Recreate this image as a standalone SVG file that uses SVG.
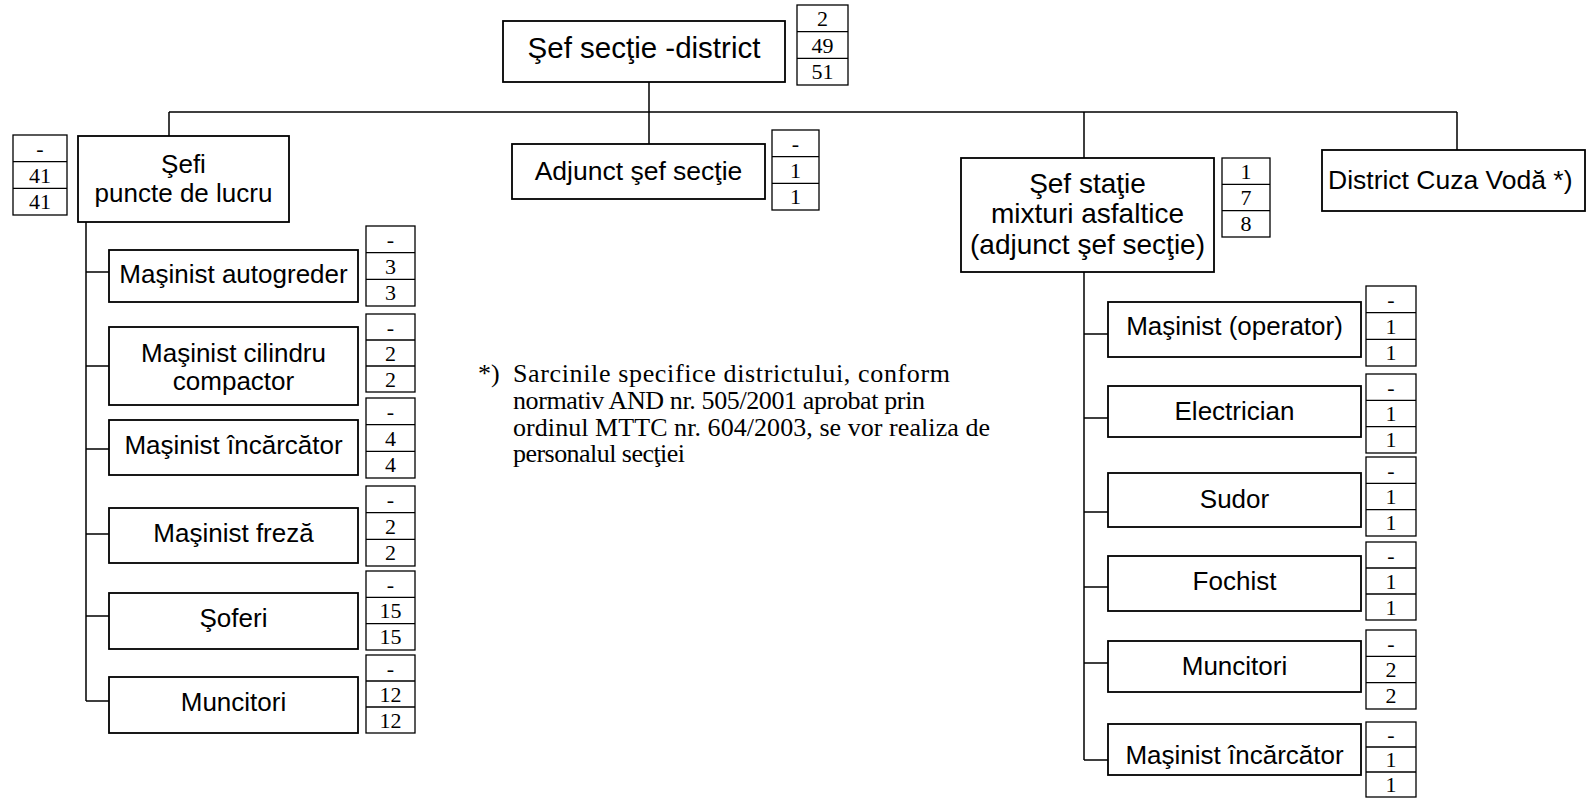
<svg xmlns="http://www.w3.org/2000/svg" width="1586" height="799" viewBox="0 0 1586 799">
<style>
.box{fill:#fff;stroke:#000;stroke-width:1.8}
.nb{fill:#fff;stroke:#000;stroke-width:1.3}
.nl{stroke:#000;stroke-width:1.3}
.con{stroke:#000;stroke-width:1.5;fill:none}
.lbl{font-family:"Liberation Sans",Arial,sans-serif;font-size:26px;text-anchor:middle;fill:#000}
.big{font-size:29.5px}
.mid{font-size:28px}
.m2{font-size:26.5px}
.num{font-family:"Liberation Serif","Times New Roman",serif;font-size:22px;text-anchor:middle;fill:#000}
.note{font-family:"Liberation Serif","Times New Roman",serif;font-size:26px;fill:#000}
</style>
<rect width="1586" height="799" fill="#fff"/>
<g id="connectors">
<path class="con" d="M169 112H1457M169 112V136M649 82V144M1084 112V158M1457 112V150"/>
<path class="con" d="M86 222V701M86 272H109M86 366H109M86 449H109M86 534H109M86 616H109M86 701H109"/>
<path class="con" d="M1084 272V760M1084 334H1108M1084 418H1108M1084 512H1108M1084 587H1108M1084 663H1108M1084 760H1108"/>
</g>
<g id="n-sef-sectie">
<rect class="box" x="503" y="21" width="282" height="61"/>
<text class="lbl big" x="644" y="58">Şef secţie -district</text>
<rect class="nb" x="797" y="5" width="51" height="80"/>
<path class="nl" d="M797 31.7H848M797 58.3H848"/>
<text class="num" x="822.5" y="26">2</text><text class="num" x="822.5" y="52.5">49</text><text class="num" x="822.5" y="79">51</text>
</g>
<g id="n-sefi-puncte">
<rect class="box" x="78" y="136" width="211" height="86"/>
<text class="lbl" x="183.5" y="173">Şefi</text>
<text class="lbl" x="183.5" y="202">puncte de lucru</text>
<rect class="nb" x="13" y="135" width="54" height="80"/>
<path class="nl" d="M13 161.7H67M13 188.3H67"/>
<text class="num" x="40" y="156">-</text><text class="num" x="40" y="182.5">41</text><text class="num" x="40" y="209">41</text>
</g>
<g id="n-adjunct">
<rect class="box" x="512" y="144" width="253" height="55"/>
<text class="lbl m2" x="638.5" y="180">Adjunct şef secţie</text>
<rect class="nb" x="772" y="130" width="47" height="80"/>
<path class="nl" d="M772 156.7H819M772 183.3H819"/>
<text class="num" x="795.5" y="151">-</text><text class="num" x="795.5" y="177.5">1</text><text class="num" x="795.5" y="204">1</text>
</g>
<g id="n-sef-statie">
<rect class="box" x="961" y="158" width="253" height="114"/>
<text class="lbl mid" x="1087.5" y="192.5">Şef staţie</text>
<text class="lbl mid" x="1087.5" y="223">mixturi asfaltice</text>
<text class="lbl mid" x="1087.5" y="253.5">(adjunct şef secţie)</text>
<rect class="nb" x="1222" y="158" width="48" height="79"/>
<path class="nl" d="M1222 184.3H1270M1222 210.7H1270"/>
<text class="num" x="1246" y="178.7">1</text><text class="num" x="1246" y="205">7</text><text class="num" x="1246" y="231.4">8</text>
</g>
<g id="n-cuza">
<rect class="box" x="1322" y="150" width="263" height="61"/>
<text class="lbl m2" x="1328" y="189" style="text-anchor:start">District Cuza Vodă *)</text>
</g>
<g id="n-autogreder">
<rect class="box" x="109" y="250" width="249" height="52"/>
<text class="lbl" x="233.5" y="283">Maşinist autogreder</text>
<rect class="nb" x="366" y="226" width="49" height="80"/>
<path class="nl" d="M366 252.7H415M366 279.3H415"/>
<text class="num" x="390.5" y="247">-</text><text class="num" x="390.5" y="273.5">3</text><text class="num" x="390.5" y="300">3</text>
</g>
<g id="n-cilindru">
<rect class="box" x="109" y="327" width="249" height="78"/>
<text class="lbl" x="233.5" y="362">Maşinist cilindru</text>
<text class="lbl" x="233.5" y="390">compactor</text>
<rect class="nb" x="366" y="314" width="49" height="78"/>
<path class="nl" d="M366 340H415M366 366H415"/>
<text class="num" x="390.5" y="334.5">-</text><text class="num" x="390.5" y="360.5">2</text><text class="num" x="390.5" y="386.5">2</text>
</g>
<g id="n-incarcator-l">
<rect class="box" x="109" y="420" width="249" height="55"/>
<text class="lbl" x="233.5" y="454">Maşinist încărcător</text>
<rect class="nb" x="366" y="398" width="49" height="80"/>
<path class="nl" d="M366 424.7H415M366 451.3H415"/>
<text class="num" x="390.5" y="419">-</text><text class="num" x="390.5" y="445.5">4</text><text class="num" x="390.5" y="472">4</text>
</g>
<g id="n-freza">
<rect class="box" x="109" y="508" width="249" height="55"/>
<text class="lbl" x="233.5" y="542">Maşinist freză</text>
<rect class="nb" x="366" y="486" width="49" height="80"/>
<path class="nl" d="M366 512.7H415M366 539.3H415"/>
<text class="num" x="390.5" y="507">-</text><text class="num" x="390.5" y="533.5">2</text><text class="num" x="390.5" y="560">2</text>
</g>
<g id="n-soferi">
<rect class="box" x="109" y="593" width="249" height="56"/>
<text class="lbl" x="233.5" y="627">Şoferi</text>
<rect class="nb" x="366" y="571" width="49" height="79"/>
<path class="nl" d="M366 597.3H415M366 623.7H415"/>
<text class="num" x="390.5" y="591.7">-</text><text class="num" x="390.5" y="618">15</text><text class="num" x="390.5" y="644.4">15</text>
</g>
<g id="n-muncitori-l">
<rect class="box" x="109" y="677" width="249" height="56"/>
<text class="lbl" x="233.5" y="711">Muncitori</text>
<rect class="nb" x="366" y="655" width="49" height="78"/>
<path class="nl" d="M366 681H415M366 707H415"/>
<text class="num" x="390.5" y="675.5">-</text><text class="num" x="390.5" y="701.5">12</text><text class="num" x="390.5" y="727.5">12</text>
</g>
<g id="n-operator">
<rect class="box" x="1108" y="302" width="253" height="55"/>
<text class="lbl" x="1234.5" y="335">Maşinist (operator)</text>
<rect class="nb" x="1366" y="286" width="50" height="80"/>
<path class="nl" d="M1366 312.7H1416M1366 339.3H1416"/>
<text class="num" x="1391" y="307">-</text><text class="num" x="1391" y="333.5">1</text><text class="num" x="1391" y="360">1</text>
</g>
<g id="n-electrician">
<rect class="box" x="1108" y="386" width="253" height="51"/>
<text class="lbl" x="1234.5" y="420">Electrician</text>
<rect class="nb" x="1366" y="374" width="50" height="79"/>
<path class="nl" d="M1366 400.3H1416M1366 426.7H1416"/>
<text class="num" x="1391" y="394.7">-</text><text class="num" x="1391" y="421">1</text><text class="num" x="1391" y="447.4">1</text>
</g>
<g id="n-sudor">
<rect class="box" x="1108" y="473" width="253" height="54"/>
<text class="lbl" x="1234.5" y="508">Sudor</text>
<rect class="nb" x="1366" y="457" width="50" height="79"/>
<path class="nl" d="M1366 483.3H1416M1366 509.7H1416"/>
<text class="num" x="1391" y="477.7">-</text><text class="num" x="1391" y="504">1</text><text class="num" x="1391" y="530.4">1</text>
</g>
<g id="n-fochist">
<rect class="box" x="1108" y="556" width="253" height="55"/>
<text class="lbl" x="1234.5" y="590">Fochist</text>
<rect class="nb" x="1366" y="542" width="50" height="78"/>
<path class="nl" d="M1366 568H1416M1366 594H1416"/>
<text class="num" x="1391" y="562.5">-</text><text class="num" x="1391" y="588.5">1</text><text class="num" x="1391" y="614.5">1</text>
</g>
<g id="n-muncitori-r">
<rect class="box" x="1108" y="641" width="253" height="51"/>
<text class="lbl" x="1234.5" y="675">Muncitori</text>
<rect class="nb" x="1366" y="630" width="50" height="79"/>
<path class="nl" d="M1366 656.3H1416M1366 682.7H1416"/>
<text class="num" x="1391" y="650.7">-</text><text class="num" x="1391" y="677">2</text><text class="num" x="1391" y="703.4">2</text>
</g>
<g id="n-incarcator-r">
<rect class="box" x="1108" y="724" width="253" height="51"/>
<text class="lbl" x="1234.5" y="764">Maşinist încărcător</text>
<rect class="nb" x="1366" y="722" width="50" height="75"/>
<path class="nl" d="M1366 747H1416M1366 772H1416"/>
<text class="num" x="1391" y="742">-</text><text class="num" x="1391" y="767">1</text><text class="num" x="1391" y="792">1</text>
</g>
<g id="note">
<text class="note" x="478" y="382">*)</text>
<text class="note" x="513" y="382" textLength="437">Sarcinile specifice districtului, conform</text>
<text class="note" x="513" y="409" textLength="412">normativ AND nr. 505/2001 aprobat prin</text>
<text class="note" x="513" y="436" textLength="477">ordinul MTTC nr. 604/2003, se vor realiza de</text>
<text class="note" x="513" y="462" textLength="172">personalul secţiei</text>
</g>
</svg>
